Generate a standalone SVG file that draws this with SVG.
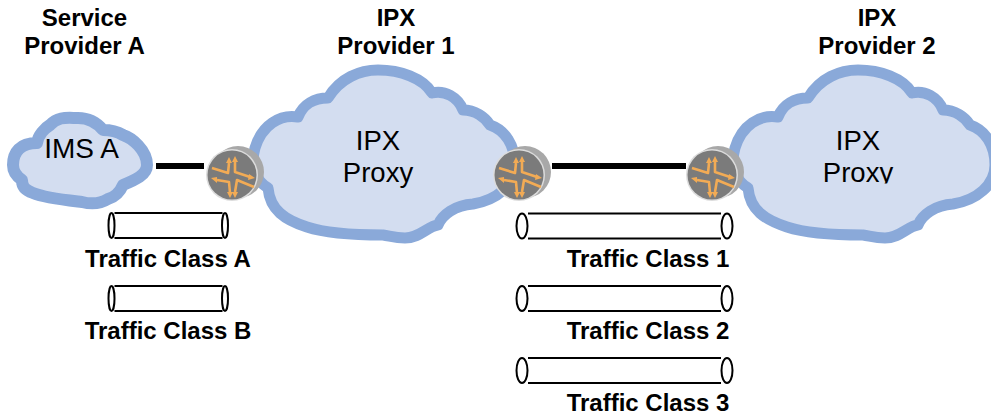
<svg xmlns="http://www.w3.org/2000/svg" xmlns:xlink="http://www.w3.org/1999/xlink" width="991" height="415" viewBox="0 0 991 415">
<style>
.cloud{fill:#d3ddf0;stroke:#8aa9d9;stroke-width:11;stroke-linejoin:round}
.lab{font-family:"Liberation Sans",Arial,sans-serif;font-weight:700;font-size:24px;fill:#000;text-anchor:middle}
.big{font-family:"Liberation Sans",Arial,sans-serif;font-size:27.5px;fill:#000;text-anchor:middle}
.tube{fill:#fff;stroke:#000;stroke-width:2}
.line{fill:none;stroke:#000;stroke-width:2}
.link{stroke:#000;stroke-width:6;fill:none}
.arr{fill:none;stroke:#f2ab55;stroke-width:2.6;stroke-linejoin:round}
.head{fill:#f2ab55}
</style>
<defs>
<clipPath id="cut"><rect x="800" y="120" width="120" height="63.5"/></clipPath>
<path id="bigcloud" d="M255,148C262,125 280,114 298,117C303,104 315,98 328,98C340,78 360,70 378,70C400,70 423,78 432,93C445,90 458,97 463,110C475,110 485,117 490,125C505,130 515,145 515,165C515,185 497,200 473,204C455,205 442,215 438,225C428,226 420,238 405,238C395,238 390,236 383,235C350,235 325,233 307,227C285,220 270,210 268,188C255,180 250,165 255,148Z"/>
<g id="router">
<circle cx="6" cy="-3" r="26" fill="#a8a8a8"/>
<circle cx="0" cy="0" r="26" fill="#dcdcdc"/>
<circle cx="0" cy="0" r="24.5" fill="#7b7b7b"/>
<path class="arr" d="M-20,-7L-4,-2L-3,-12M3,-13L3,-3L18,2M-15,5L-3,7L-2,18M22,12L5,5L3,17"/>
<path class="head" d="M-3,-18l-3,6l6,0ZM3,-19l-3,6l6,0ZM23,3l-6,-4l-1,6ZM-21,3l6,-1l0,6ZM-2,23l-3,-6l6,0ZM3,23l-3,-6l6,0Z"/>
</g>
<g id="tube">
<rect x="2.5" y="0" width="114" height="25" fill="#fff"/>
<path class="line" d="M6,0H114M6,25H114"/>
<ellipse class="tube" cx="3" cy="12.5" rx="3" ry="12.5"/>
<ellipse class="tube" cx="116.5" cy="12.5" rx="3" ry="12.5"/>
</g>
<g id="longtube">
<path class="line" d="M12,0H205M12,25H205"/>
<ellipse class="tube" cx="6" cy="12.5" rx="5.5" ry="12.5"/>
<ellipse class="tube" cx="211" cy="12.5" rx="5.5" ry="12.5"/>
</g>
</defs>
<g id="connectors">
<path class="link" d="M156,166H204"/>
<path class="link" d="M552,166H686"/>
</g>
<g id="ims-a">
<path class="cloud" style="stroke-width:12" d="M13,165C13,152 20,143 37,143C38,135 45,128 50,125C58,116 68,118 78,118C90,118 98,124 103,130C112,130 118,132 123,135C132,138 147,150 147,165C147,175 135,180 123,185C120,192 115,197 108,199C100,204 90,204 82,202C65,200 45,198 33,193C25,190 22,187 22,180C16,176 13,170 13,165Z"/>
<text class="big" x="81.5" y="158" style="font-size:28px">IMS A</text>
</g>
<g id="ipx-1">
<use xlink:href="#bigcloud" href="#bigcloud" class="cloud"/>
<text class="big" x="378" y="150">IPX</text>
<text class="big" x="378" y="182">Proxy</text>
</g>
<g id="ipx-2">
<use xlink:href="#bigcloud" href="#bigcloud" class="cloud" transform="translate(480,0)"/>
<text class="big" x="858" y="150">IPX</text>
<text class="big" x="858" y="182" clip-path="url(#cut)">Proxy</text>
</g>
<g id="router-1"><use xlink:href="#router" href="#router" transform="translate(232,175)"/></g>
<g id="router-2"><use xlink:href="#router" href="#router" transform="translate(519,175)"/></g>
<g id="router-3"><use xlink:href="#router" href="#router" transform="translate(712,175)"/></g>
<g id="tube-a"><use xlink:href="#tube" href="#tube" transform="translate(108.5,213)"/><text class="lab" x="168" y="267">Traffic Class A</text></g>
<g id="tube-b"><use xlink:href="#tube" href="#tube" transform="translate(108.5,286)"/><text class="lab" x="168" y="339">Traffic Class B</text></g>
<g id="tube-1"><use xlink:href="#longtube" href="#longtube" transform="translate(516,213.5)"/><text class="lab" x="648" y="267">Traffic Class 1</text></g>
<g id="tube-2"><use xlink:href="#longtube" href="#longtube" transform="translate(516,286)"/><text class="lab" x="648" y="339">Traffic Class 2</text></g>
<g id="tube-3"><use xlink:href="#longtube" href="#longtube" transform="translate(516,358)"/><text class="lab" x="648" y="411">Traffic Class 3</text></g>
<g id="titles">
<text class="lab" x="84.5" y="26">Service</text>
<text class="lab" x="84.5" y="54">Provider A</text>
<text class="lab" x="396" y="26">IPX</text>
<text class="lab" x="396" y="54">Provider 1</text>
<text class="lab" x="877" y="26">IPX</text>
<text class="lab" x="877" y="54">Provider 2</text>
</g>
</svg>
